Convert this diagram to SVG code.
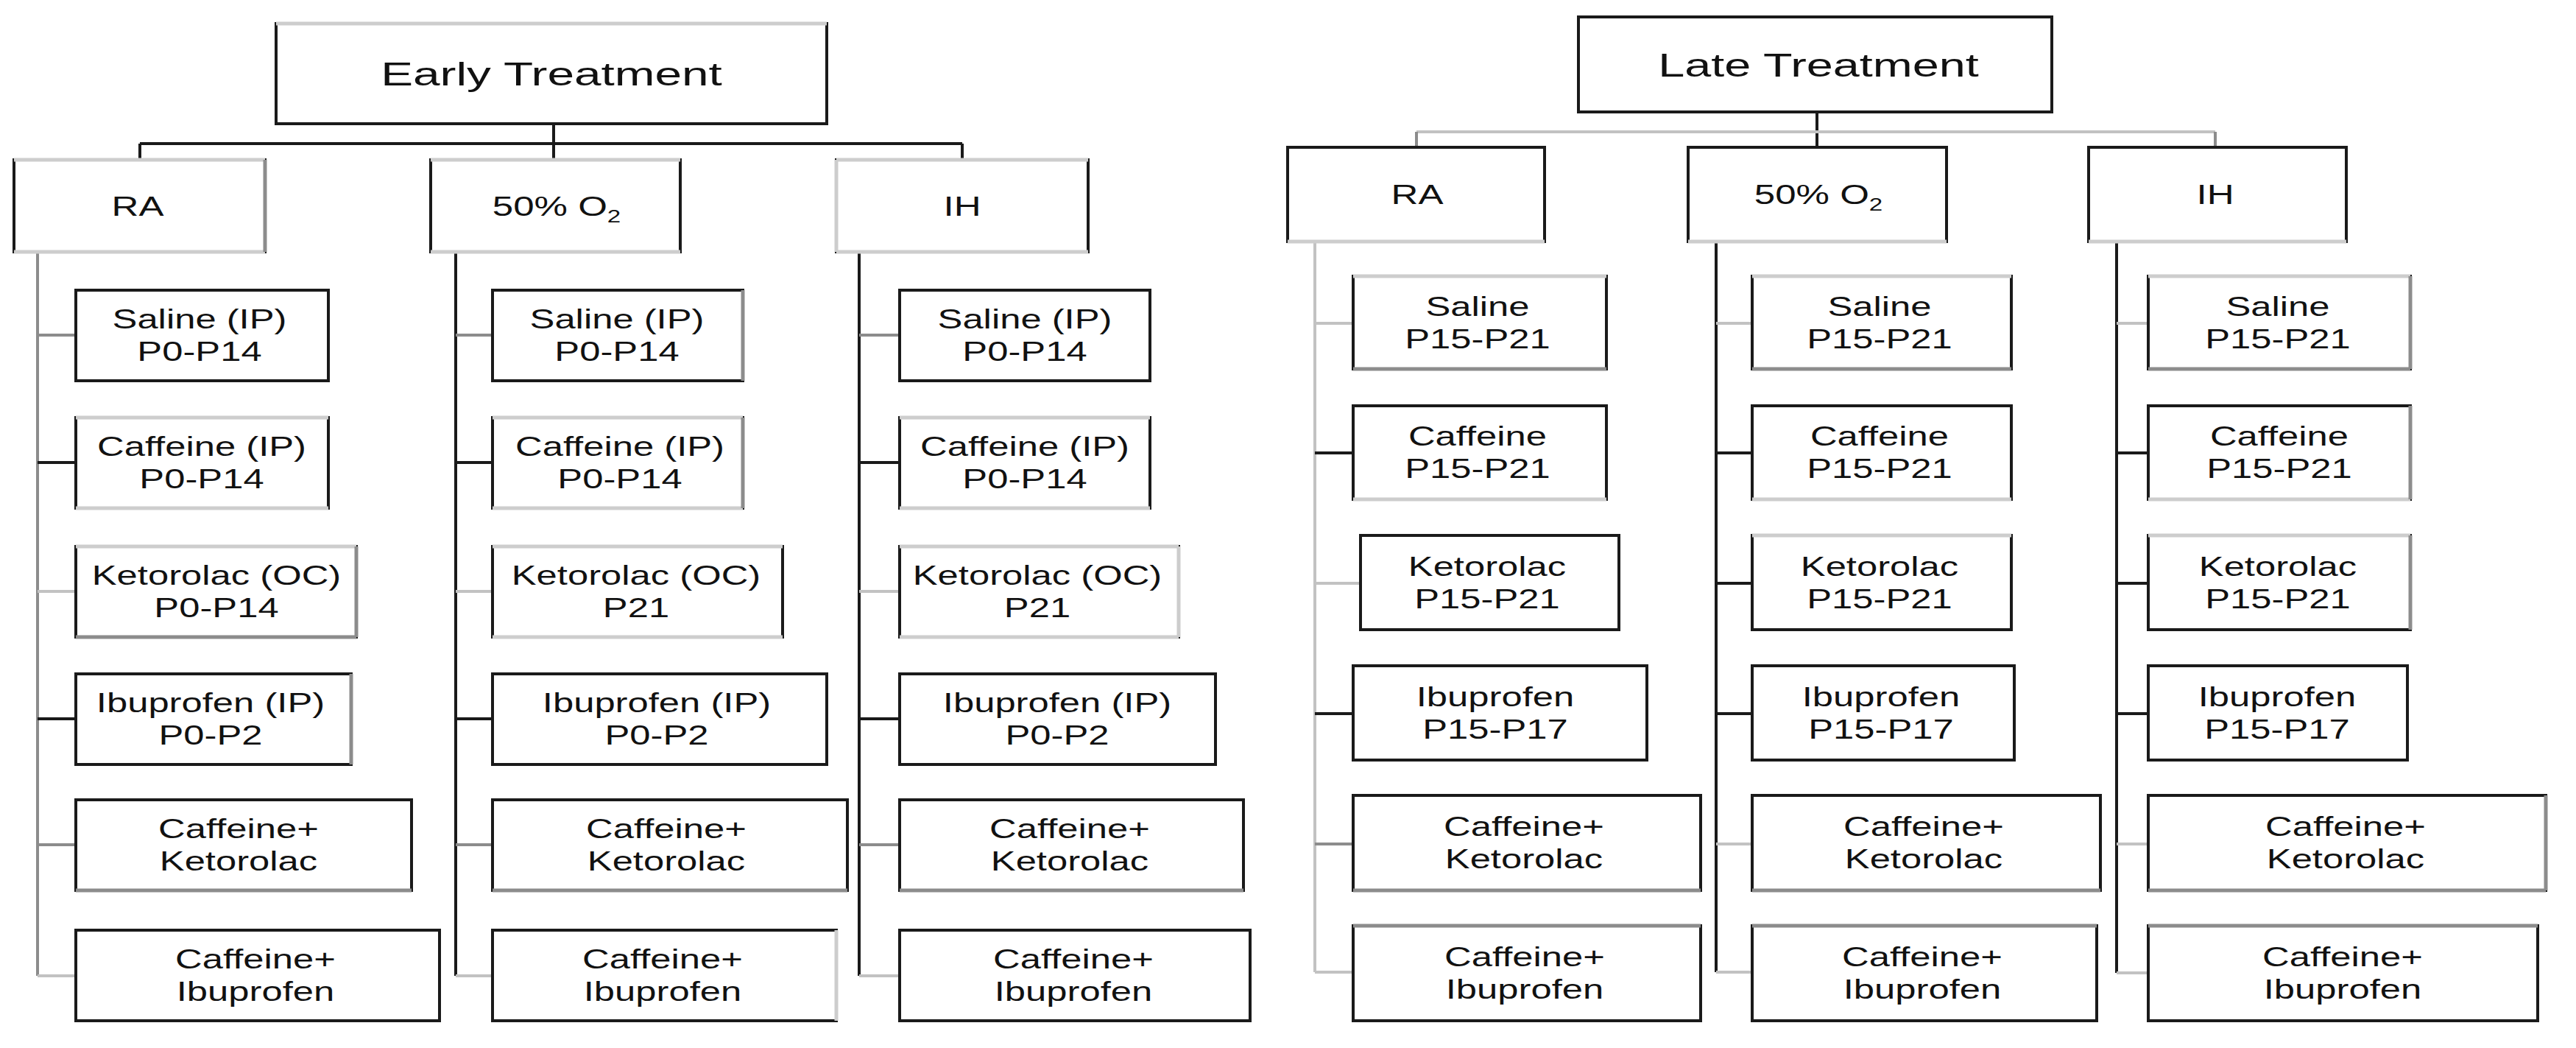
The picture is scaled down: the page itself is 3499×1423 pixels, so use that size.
<svg xmlns="http://www.w3.org/2000/svg" width="3499" height="1423" viewBox="0 0 3499 1423">
<style>
  .bg { fill: #ffffff; }
  .box { fill: #ffffff; stroke: #1a1a1a; stroke-width: 4; }
  .f1 { stroke: #cdcdcd; stroke-width: 5; }
  .f2 { stroke: #8c8c8c; stroke-width: 5; }
  .conn path { fill: none; stroke: #1a1a1a; stroke-width: 4; }
  .conn path.g { stroke: #8c8c8c; }
  .conn path.l { stroke: #c2c2c2; }
  text { font-family: "Liberation Sans", Arial, sans-serif; fill: #111111; text-anchor: middle; }
  .t { font-size: 45px; }
  .h { font-size: 37px; }
  .c { font-size: 36px; }
  .sub { font-size: 24px; }
</style>
<rect class="bg" x="0" y="0" width="3499" height="1423"/>

<!-- ===================== CONNECTORS ===================== -->
<g id="connectors" class="conn">
  <!-- Early treatment tree -->
  <path d="M752 168 V217"/>
  <path d="M190 195 H1307"/>
  <path d="M190 195 V217"/>
  <path d="M1307 195 V217"/>
  <path class="g" d="M51 342 V1325"/>
  <path class="g" d="M51 455 H103"/>
  <path d="M51 628 H103"/>
  <path class="l" d="M51 803 H103"/>
  <path d="M51 976 H103"/>
  <path class="g" d="M51 1147 H103"/>
  <path class="l" d="M51 1325 H103"/>
  <path d="M619 342 V1325"/>
  <path class="g" d="M619 455 H669"/>
  <path d="M619 628 H669"/>
  <path class="l" d="M619 803 H669"/>
  <path d="M619 976 H669"/>
  <path class="g" d="M619 1147 H669"/>
  <path class="l" d="M619 1325 H669"/>
  <path d="M1167 342 V1325"/>
  <path class="g" d="M1167 455 H1222"/>
  <path d="M1167 628 H1222"/>
  <path class="l" d="M1167 803 H1222"/>
  <path d="M1167 976 H1222"/>
  <path class="g" d="M1167 1147 H1222"/>
  <path class="l" d="M1167 1325 H1222"/>
  <!-- Late treatment tree -->
  <path d="M2468 152 V200"/>
  <path class="l" d="M1924 179 H3009"/>
  <path class="g" d="M1924 179 V200"/>
  <path class="g" d="M3009 179 V200"/>
  <path class="l" d="M1786 328 V1320"/>
  <path class="l" d="M1786 439 H1838"/>
  <path d="M1786 615 H1838"/>
  <path class="l" d="M1786 792 H1848"/>
  <path d="M1786 969 H1838"/>
  <path class="g" d="M1786 1146 H1838"/>
  <path class="l" d="M1786 1320 H1838"/>
  <path d="M2331 328 V1320"/>
  <path class="l" d="M2331 439 H2380"/>
  <path d="M2331 615 H2380"/>
  <path d="M2331 792 H2380"/>
  <path d="M2331 969 H2380"/>
  <path class="l" d="M2331 1146 H2380"/>
  <path class="l" d="M2331 1320 H2380"/>
  <path d="M2875 328 V1321"/>
  <path class="l" d="M2875 439 H2918"/>
  <path d="M2875 615 H2918"/>
  <path d="M2875 792 H2918"/>
  <path d="M2875 969 H2918"/>
  <path class="l" d="M2875 1146 H2918"/>
  <path class="l" d="M2875 1321 H2918"/>
</g>

<!-- ===================== EARLY TREATMENT ===================== -->
<g id="early-title">
  <rect class="box" x="375" y="32" width="748" height="136"/>
  <line class="f1" x1="375" y1="32" x2="1123" y2="32"/>
  <text class="t" transform="matrix(1.46 0 0 1 749 116)">Early Treatment</text>
</g>

<g id="early-ra">
  <rect class="box" x="19" y="217" width="341" height="125"/>
  <line class="f1" x1="19" y1="217" x2="360" y2="217"/>
  <line class="f1" x1="19" y1="342" x2="360" y2="342"/>
  <line class="f2" x1="360" y1="217" x2="360" y2="342"/>
  <text class="h" transform="matrix(1.38 0 0 1 187 293)">RA</text>
</g>
<g id="early-o2">
  <rect class="box" x="585" y="217" width="339" height="125"/>
  <line class="f1" x1="585" y1="217" x2="924" y2="217"/>
  <line class="f1" x1="585" y1="342" x2="924" y2="342"/>
  <text class="h" transform="matrix(1.38 0 0 1 756 293)">50% O<tspan class="sub" dy="9">2</tspan></text>
</g>
<g id="early-ih">
  <rect class="box" x="1136" y="217" width="342" height="125"/>
  <line class="f1" x1="1136" y1="217" x2="1478" y2="217"/>
  <line class="f1" x1="1136" y1="342" x2="1478" y2="342"/>
  <line class="f1" x1="1136" y1="217" x2="1136" y2="342"/>
  <text class="h" transform="matrix(1.38 0 0 1 1307 293)">IH</text>
</g>

<!-- Early RA column -->
<g id="early-ra-saline">
  <rect class="box" x="103" y="394" width="343" height="123"/>
  <text class="c" transform="matrix(1.41 0 0 1 271 455)"><tspan x="0" y="-9">Saline (IP)</tspan><tspan x="0" y="35">P0-P14</tspan></text>
</g>
<g id="early-ra-caffeine">
  <rect class="box" x="103" y="567" width="343" height="123"/>
  <line class="f1" x1="103" y1="567" x2="446" y2="567"/>
  <line class="f1" x1="103" y1="690" x2="446" y2="690"/>
  <text class="c" transform="matrix(1.41 0 0 1 274 628)"><tspan x="0" y="-9">Caffeine (IP)</tspan><tspan x="0" y="35">P0-P14</tspan></text>
</g>
<g id="early-ra-ketorolac">
  <rect class="box" x="103" y="742" width="381" height="123"/>
  <line class="f1" x1="103" y1="742" x2="484" y2="742"/>
  <line class="f2" x1="103" y1="865" x2="484" y2="865"/>
  <line class="f2" x1="484" y1="742" x2="484" y2="865"/>
  <text class="c" transform="matrix(1.41 0 0 1 294 803)"><tspan x="0" y="-9">Ketorolac (OC)</tspan><tspan x="0" y="35">P0-P14</tspan></text>
</g>
<g id="early-ra-ibuprofen">
  <rect class="box" x="103" y="915" width="374" height="123"/>
  <line class="f2" x1="477" y1="915" x2="477" y2="1038"/>
  <text class="c" transform="matrix(1.41 0 0 1 286 976)"><tspan x="0" y="-9">Ibuprofen (IP)</tspan><tspan x="0" y="35">P0-P2</tspan></text>
</g>
<g id="early-ra-caff-ket">
  <rect class="box" x="103" y="1086" width="456" height="123"/>
  <line class="f2" x1="103" y1="1209" x2="559" y2="1209"/>
  <text class="c" transform="matrix(1.41 0 0 1 324 1147)"><tspan x="0" y="-9">Caffeine+</tspan><tspan x="0" y="35">Ketorolac</tspan></text>
</g>
<g id="early-ra-caff-ibu">
  <rect class="box" x="103" y="1263" width="494" height="123"/>
  <text class="c" transform="matrix(1.41 0 0 1 347 1324)"><tspan x="0" y="-9">Caffeine+</tspan><tspan x="0" y="35">Ibuprofen</tspan></text>
</g>

<!-- Early 50% O2 column -->
<g id="early-o2-saline">
  <rect class="box" x="669" y="394" width="340" height="123"/>
  <line class="f2" x1="1009" y1="394" x2="1009" y2="517"/>
  <text class="c" transform="matrix(1.41 0 0 1 838 455)"><tspan x="0" y="-9">Saline (IP)</tspan><tspan x="0" y="35">P0-P14</tspan></text>
</g>
<g id="early-o2-caffeine">
  <rect class="box" x="669" y="567" width="340" height="123"/>
  <line class="f1" x1="669" y1="567" x2="1009" y2="567"/>
  <line class="f1" x1="669" y1="690" x2="1009" y2="690"/>
  <line class="f2" x1="1009" y1="567" x2="1009" y2="690"/>
  <text class="c" transform="matrix(1.41 0 0 1 842 628)"><tspan x="0" y="-9">Caffeine (IP)</tspan><tspan x="0" y="35">P0-P14</tspan></text>
</g>
<g id="early-o2-ketorolac">
  <rect class="box" x="669" y="742" width="394" height="123"/>
  <line class="f1" x1="669" y1="742" x2="1063" y2="742"/>
  <line class="f1" x1="669" y1="865" x2="1063" y2="865"/>
  <text class="c" transform="matrix(1.41 0 0 1 864 803)"><tspan x="0" y="-9">Ketorolac (OC)</tspan><tspan x="0" y="35">P21</tspan></text>
</g>
<g id="early-o2-ibuprofen">
  <rect class="box" x="669" y="915" width="454" height="123"/>
  <text class="c" transform="matrix(1.41 0 0 1 892 976)"><tspan x="0" y="-9">Ibuprofen (IP)</tspan><tspan x="0" y="35">P0-P2</tspan></text>
</g>
<g id="early-o2-caff-ket">
  <rect class="box" x="669" y="1086" width="482" height="123"/>
  <line class="f2" x1="669" y1="1209" x2="1151" y2="1209"/>
  <text class="c" transform="matrix(1.41 0 0 1 905 1147)"><tspan x="0" y="-9">Caffeine+</tspan><tspan x="0" y="35">Ketorolac</tspan></text>
</g>
<g id="early-o2-caff-ibu">
  <rect class="box" x="669" y="1263" width="467" height="123"/>
  <line class="f1" x1="1136" y1="1263" x2="1136" y2="1386"/>
  <text class="c" transform="matrix(1.41 0 0 1 900 1324)"><tspan x="0" y="-9">Caffeine+</tspan><tspan x="0" y="35">Ibuprofen</tspan></text>
</g>

<!-- Early IH column -->
<g id="early-ih-saline">
  <rect class="box" x="1222" y="394" width="340" height="123"/>
  <text class="c" transform="matrix(1.41 0 0 1 1392 455)"><tspan x="0" y="-9">Saline (IP)</tspan><tspan x="0" y="35">P0-P14</tspan></text>
</g>
<g id="early-ih-caffeine">
  <rect class="box" x="1222" y="567" width="340" height="123"/>
  <line class="f1" x1="1222" y1="567" x2="1562" y2="567"/>
  <line class="f1" x1="1222" y1="690" x2="1562" y2="690"/>
  <text class="c" transform="matrix(1.41 0 0 1 1392 628)"><tspan x="0" y="-9">Caffeine (IP)</tspan><tspan x="0" y="35">P0-P14</tspan></text>
</g>
<g id="early-ih-ketorolac">
  <rect class="box" x="1222" y="742" width="379" height="123"/>
  <line class="f1" x1="1222" y1="742" x2="1601" y2="742"/>
  <line class="f1" x1="1222" y1="865" x2="1601" y2="865"/>
  <line class="f1" x1="1601" y1="742" x2="1601" y2="865"/>
  <text class="c" transform="matrix(1.41 0 0 1 1409 803)"><tspan x="0" y="-9">Ketorolac (OC)</tspan><tspan x="0" y="35">P21</tspan></text>
</g>
<g id="early-ih-ibuprofen">
  <rect class="box" x="1222" y="915" width="429" height="123"/>
  <text class="c" transform="matrix(1.41 0 0 1 1436 976)"><tspan x="0" y="-9">Ibuprofen (IP)</tspan><tspan x="0" y="35">P0-P2</tspan></text>
</g>
<g id="early-ih-caff-ket">
  <rect class="box" x="1222" y="1086" width="467" height="123"/>
  <line class="f2" x1="1222" y1="1209" x2="1689" y2="1209"/>
  <text class="c" transform="matrix(1.41 0 0 1 1453 1147)"><tspan x="0" y="-9">Caffeine+</tspan><tspan x="0" y="35">Ketorolac</tspan></text>
</g>
<g id="early-ih-caff-ibu">
  <rect class="box" x="1222" y="1263" width="476" height="123"/>
  <text class="c" transform="matrix(1.41 0 0 1 1458 1324)"><tspan x="0" y="-9">Caffeine+</tspan><tspan x="0" y="35">Ibuprofen</tspan></text>
</g>

<!-- ===================== LATE TREATMENT ===================== -->
<g id="late-title">
  <rect class="box" x="2144" y="23" width="643" height="129"/>
  <text class="t" transform="matrix(1.44 0 0 1 2470 104)">Late Treatment</text>
</g>

<g id="late-ra">
  <rect class="box" x="1749" y="200" width="349" height="128"/>
  <line class="f1" x1="1749" y1="328" x2="2098" y2="328"/>
  <text class="h" transform="matrix(1.38 0 0 1 1925 277)">RA</text>
</g>
<g id="late-o2">
  <rect class="box" x="2293" y="200" width="351" height="128"/>
  <line class="f1" x1="2293" y1="328" x2="2644" y2="328"/>
  <text class="h" transform="matrix(1.38 0 0 1 2470 277)">50% O<tspan class="sub" dy="9">2</tspan></text>
</g>
<g id="late-ih">
  <rect class="box" x="2837" y="200" width="350" height="128"/>
  <line class="f1" x1="2837" y1="328" x2="3187" y2="328"/>
  <text class="h" transform="matrix(1.38 0 0 1 3009 277)">IH</text>
</g>

<!-- Late RA column -->
<g id="late-ra-saline">
  <rect class="box" x="1838" y="375" width="344" height="126"/>
  <line class="f1" x1="1838" y1="375" x2="2182" y2="375"/>
  <line class="f2" x1="1838" y1="501" x2="2182" y2="501"/>
  <text class="c" transform="matrix(1.41 0 0 1 2007 438)"><tspan x="0" y="-9">Saline</tspan><tspan x="0" y="35">P15-P21</tspan></text>
</g>
<g id="late-ra-caffeine">
  <rect class="box" x="1838" y="551" width="344" height="127"/>
  <line class="f1" x1="1838" y1="678" x2="2182" y2="678"/>
  <text class="c" transform="matrix(1.41 0 0 1 2007 614)"><tspan x="0" y="-9">Caffeine</tspan><tspan x="0" y="35">P15-P21</tspan></text>
</g>
<g id="late-ra-ketorolac">
  <rect class="box" x="1848" y="727" width="351" height="128"/>
  <text class="c" transform="matrix(1.41 0 0 1 2020 791)"><tspan x="0" y="-9">Ketorolac</tspan><tspan x="0" y="35">P15-P21</tspan></text>
</g>
<g id="late-ra-ibuprofen">
  <rect class="box" x="1838" y="904" width="399" height="128"/>
  <text class="c" transform="matrix(1.41 0 0 1 2031 968)"><tspan x="0" y="-9">Ibuprofen</tspan><tspan x="0" y="35">P15-P17</tspan></text>
</g>
<g id="late-ra-caff-ket">
  <rect class="box" x="1838" y="1080" width="472" height="129"/>
  <line class="f2" x1="1838" y1="1209" x2="2310" y2="1209"/>
  <text class="c" transform="matrix(1.41 0 0 1 2070 1144)"><tspan x="0" y="-9">Caffeine+</tspan><tspan x="0" y="35">Ketorolac</tspan></text>
</g>
<g id="late-ra-caff-ibu">
  <rect class="box" x="1838" y="1257" width="472" height="129"/>
  <line class="f2" x1="1838" y1="1257" x2="2310" y2="1257"/>
  <text class="c" transform="matrix(1.41 0 0 1 2071 1321)"><tspan x="0" y="-9">Caffeine+</tspan><tspan x="0" y="35">Ibuprofen</tspan></text>
</g>

<!-- Late 50% O2 column -->
<g id="late-o2-saline">
  <rect class="box" x="2380" y="375" width="352" height="126"/>
  <line class="f1" x1="2380" y1="375" x2="2732" y2="375"/>
  <line class="f2" x1="2380" y1="501" x2="2732" y2="501"/>
  <text class="c" transform="matrix(1.41 0 0 1 2553 438)"><tspan x="0" y="-9">Saline</tspan><tspan x="0" y="35">P15-P21</tspan></text>
</g>
<g id="late-o2-caffeine">
  <rect class="box" x="2380" y="551" width="352" height="127"/>
  <line class="f1" x1="2380" y1="678" x2="2732" y2="678"/>
  <text class="c" transform="matrix(1.41 0 0 1 2553 614)"><tspan x="0" y="-9">Caffeine</tspan><tspan x="0" y="35">P15-P21</tspan></text>
</g>
<g id="late-o2-ketorolac">
  <rect class="box" x="2380" y="727" width="352" height="128"/>
  <line class="f1" x1="2380" y1="727" x2="2732" y2="727"/>
  <text class="c" transform="matrix(1.41 0 0 1 2553 791)"><tspan x="0" y="-9">Ketorolac</tspan><tspan x="0" y="35">P15-P21</tspan></text>
</g>
<g id="late-o2-ibuprofen">
  <rect class="box" x="2380" y="904" width="356" height="128"/>
  <text class="c" transform="matrix(1.41 0 0 1 2555 968)"><tspan x="0" y="-9">Ibuprofen</tspan><tspan x="0" y="35">P15-P17</tspan></text>
</g>
<g id="late-o2-caff-ket">
  <rect class="box" x="2380" y="1080" width="473" height="129"/>
  <line class="f2" x1="2380" y1="1209" x2="2853" y2="1209"/>
  <text class="c" transform="matrix(1.41 0 0 1 2613 1144)"><tspan x="0" y="-9">Caffeine+</tspan><tspan x="0" y="35">Ketorolac</tspan></text>
</g>
<g id="late-o2-caff-ibu">
  <rect class="box" x="2380" y="1257" width="468" height="129"/>
  <line class="f2" x1="2380" y1="1257" x2="2848" y2="1257"/>
  <text class="c" transform="matrix(1.41 0 0 1 2611 1321)"><tspan x="0" y="-9">Caffeine+</tspan><tspan x="0" y="35">Ibuprofen</tspan></text>
</g>

<!-- Late IH column -->
<g id="late-ih-saline">
  <rect class="box" x="2918" y="375" width="356" height="126"/>
  <line class="f1" x1="2918" y1="375" x2="3274" y2="375"/>
  <line class="f2" x1="2918" y1="501" x2="3274" y2="501"/>
  <line class="f2" x1="3274" y1="375" x2="3274" y2="501"/>
  <text class="c" transform="matrix(1.41 0 0 1 3094 438)"><tspan x="0" y="-9">Saline</tspan><tspan x="0" y="35">P15-P21</tspan></text>
</g>
<g id="late-ih-caffeine">
  <rect class="box" x="2918" y="551" width="356" height="127"/>
  <line class="f1" x1="2918" y1="678" x2="3274" y2="678"/>
  <line class="f2" x1="3274" y1="551" x2="3274" y2="678"/>
  <text class="c" transform="matrix(1.41 0 0 1 3096 614)"><tspan x="0" y="-9">Caffeine</tspan><tspan x="0" y="35">P15-P21</tspan></text>
</g>
<g id="late-ih-ketorolac">
  <rect class="box" x="2918" y="727" width="356" height="128"/>
  <line class="f1" x1="2918" y1="727" x2="3274" y2="727"/>
  <line class="f2" x1="3274" y1="727" x2="3274" y2="855"/>
  <text class="c" transform="matrix(1.41 0 0 1 3094 791)"><tspan x="0" y="-9">Ketorolac</tspan><tspan x="0" y="35">P15-P21</tspan></text>
</g>
<g id="late-ih-ibuprofen">
  <rect class="box" x="2918" y="904" width="352" height="128"/>
  <text class="c" transform="matrix(1.41 0 0 1 3093 968)"><tspan x="0" y="-9">Ibuprofen</tspan><tspan x="0" y="35">P15-P17</tspan></text>
</g>
<g id="late-ih-caff-ket">
  <rect class="box" x="2918" y="1080" width="540" height="129"/>
  <line class="f2" x1="2918" y1="1209" x2="3458" y2="1209"/>
  <line class="f2" x1="3458" y1="1080" x2="3458" y2="1209"/>
  <text class="c" transform="matrix(1.41 0 0 1 3186 1144)"><tspan x="0" y="-9">Caffeine+</tspan><tspan x="0" y="35">Ketorolac</tspan></text>
</g>
<g id="late-ih-caff-ibu">
  <rect class="box" x="2918" y="1257" width="529" height="129"/>
  <line class="f2" x1="2918" y1="1257" x2="3447" y2="1257"/>
  <text class="c" transform="matrix(1.41 0 0 1 3182 1321)"><tspan x="0" y="-9">Caffeine+</tspan><tspan x="0" y="35">Ibuprofen</tspan></text>
</g>
</svg>
